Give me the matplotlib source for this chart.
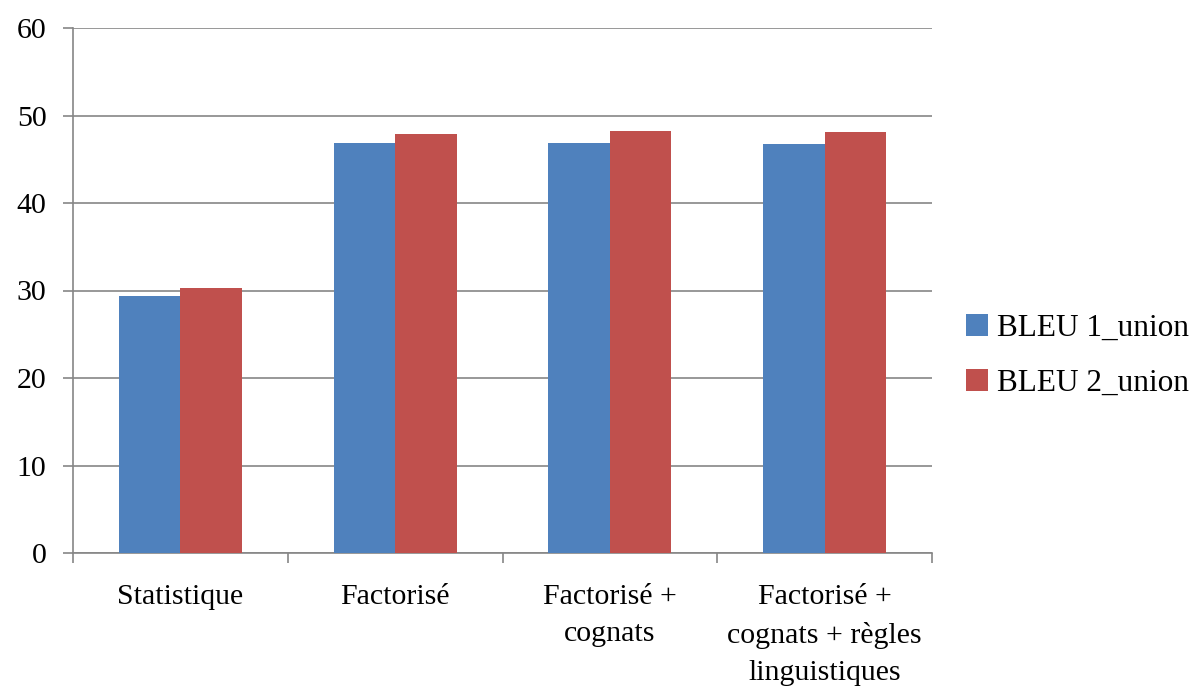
import matplotlib
matplotlib.use("Agg")
import matplotlib.pyplot as plt
import numpy as np

categories = ["Statistique", "Factorisé", "Factorisé +\ncognats", "Factorisé +\ncognats + règles\nlinguistiques"]
series_names = ["BLEU 1_union", "BLEU 2_union"]
bleu1 = [29.4, 46.9, 46.9, 46.7]
bleu2 = [30.25, 47.9, 48.2, 48.1]
colors = ["#4F81BD", "#C0504D"]

plt.rcParams['font.family'] = ['Liberation Serif', 'DejaVu Serif']

fig = plt.figure(figsize=(11.9, 6.93), dpi=100)
ax = fig.add_axes([73/1190, 1-553/693, (932-73)/1190, (553-28)/693])

x = np.arange(len(categories))
w = 0.286
ax.bar(x - w/2, bleu1, width=w, color=colors[0], label=series_names[0], zorder=3)
ax.bar(x + w/2, bleu2, width=w, color=colors[1], label=series_names[1], zorder=3)

ax.set_xlim(-0.5, len(categories) - 0.5)
ax.set_ylim(0, 60)
ax.set_yticks(np.arange(0, 61, 10))
ax.yaxis.grid(True, color="#868686", linewidth=1.2, zorder=0)
ax.set_xticks(x)
ax.set_xticklabels(categories, fontsize=21.5, linespacing=1.58, va="top")
ax.set_xticks(np.arange(-0.5, len(categories)), minor=True)
ax.tick_params(axis="x", which="major", length=0, pad=22)
ax.tick_params(axis="x", which="minor", length=7, width=1.2, color="#868686", direction="out")
ax.tick_params(axis="y", length=7, width=1.2, color="#868686", labelsize=21.5, pad=12)
for s in ["top", "right"]:
    ax.spines[s].set_visible(False)
for s in ["left", "bottom"]:
    ax.spines[s].set_color("#868686")
    ax.spines[s].set_linewidth(1.2)

leg = fig.legend(loc="center left", bbox_to_anchor=(966/1190, 1-356/693), frameon=False,
                 fontsize=22.5, handlelength=0.7, handleheight=0.7, handletextpad=0.3,
                 labelspacing=0.85, borderaxespad=0, borderpad=0)

fig.savefig("out.png", dpi=100)
